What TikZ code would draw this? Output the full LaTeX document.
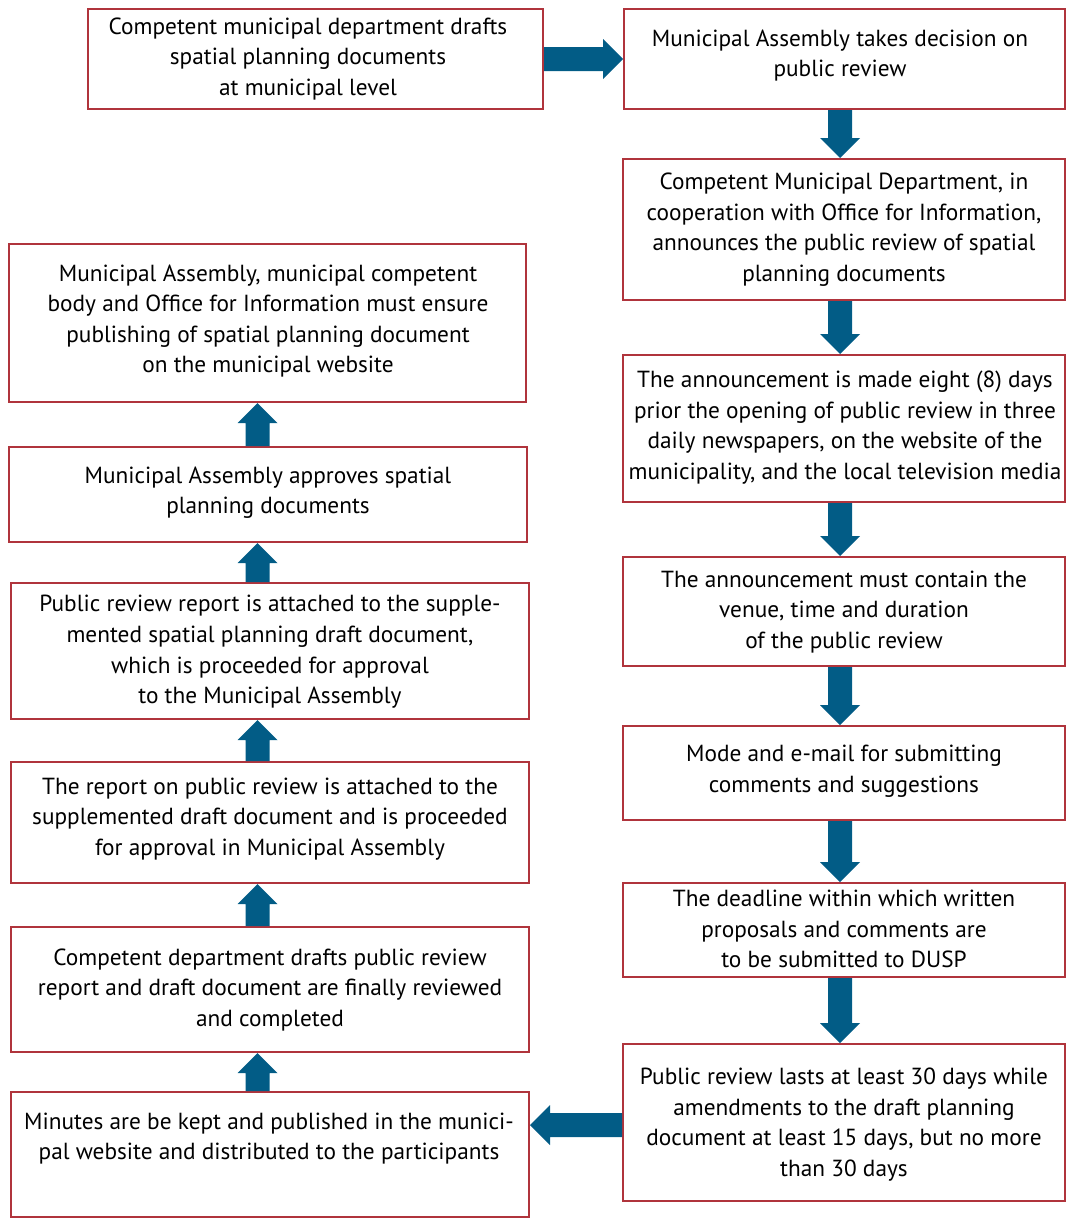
\documentclass[tikz,border=0pt]{standalone}
\usepackage{fontspec}
\setmainfont{PT Sans}
\usetikzlibrary{calc}
\definecolor{boxred}{RGB}{176,52,60}
\definecolor{arrowc}{RGB}{2,92,134}
\tikzset{
  box/.style={draw=boxred, line width=2.2pt, rectangle, inner sep=0pt},
  txt/.style={align=center, inner sep=0pt, font=\fontsize{23.3}{30.6}\selectfont},
}
\newcommand\boxat[5]{%
  \node[box, minimum width={(#4-#2-2.2)*1pt}, minimum height={(#5-#3-2.2)*1pt}] (#1) at ({(#2+#4)/2},{(#3+#5)/2}) {};}
\newcommand\fatarrow[2]{%
  \path (#1) coordinate (fas);
  \path (#2) coordinate (fae);
  \path ($(fae)!20pt!(fas)$) coordinate (fah);
  \fill[arrowc] ($(fas)!12pt!90:(fae)$) -- ($(fah)!12pt!90:(fae)$) -- ($(fah)!20pt!90:(fae)$) -- (fae)
    -- ($(fah)!20pt!-90:(fae)$) -- ($(fah)!12pt!-90:(fae)$) -- ($(fas)!12pt!-90:(fae)$) -- cycle;}
\begin{document}
\begin{tikzpicture}[x=1pt,y=-1pt]
\useasboundingbox (0,0) rectangle (1067,1221);
% boxes
\boxat{L0}{87}{8}{544}{110}
\boxat{R0}{623}{8}{1066}{110}
\boxat{R1}{622}{158}{1066}{301}
\boxat{R2}{622}{354}{1066}{503}
\boxat{R3}{622}{556}{1066}{667}
\boxat{R4}{622}{725}{1066}{821}
\boxat{R5}{622}{882}{1066}{978}
\boxat{R6}{622}{1043}{1066}{1202}
\boxat{L1}{8}{243}{527}{403}
\boxat{L2}{8}{446}{528}{543}
\boxat{L3}{10}{582}{530}{720}
\boxat{L4}{10}{761}{530}{884}
\boxat{L5}{10}{926}{530}{1053}
\boxat{L6}{10}{1091}{530}{1218}
% texts
\node[txt] (L0t) at (308,59) {Competent municipal department drafts\\spatial planning documents\\at municipal level};
\node[txt] (R0t) at (840,55.5) {Municipal Assembly takes decision on\\public review};
\node[txt] (R1t) at (844,229.5) {Competent Municipal Department, in\\cooperation with Office for Information,\\announces the public review of spatial\\planning documents};
\node[txt] (R2t) at (845,427.5) {The announcement is made eight (8) days\\prior the opening of public review in three\\daily newspapers, on the website of the\\municipality, and the local television media};
\node[txt] (R3t) at (844,612) {The announcement must contain the\\venue, time and duration\\of the public review};
\node[txt] (R4t) at (844,771.5) {Mode and e-mail for submitting\\comments and suggestions};
\node[txt] (R5t) at (844,929) {The deadline within which written\\proposals and comments are\\to be submitted to DUSP};
\node[txt] (R6t) at (844,1124.5) {Public review lasts at least 30 days while\\amendments to the draft planning\\document at least 15 days, but no more\\than 30 days};
\node[txt] (L1t) at (268,321) {Municipal Assembly, municipal competent\\body and Office for Information must ensure\\publishing of spatial planning document\\on the municipal website};
\node[txt] (L2t) at (268,492.5) {Municipal Assembly approves spatial\\planning documents};
\node[txt] (L3t) at (270,652) {Public review report is attached to the supple-\\mented spatial planning draft document,\\which is proceeded for approval\\to the Municipal Assembly};
\node[txt] (L4t) at (270,819) {The report on public review is attached to the\\supplemented draft document and is proceeded\\for approval in Municipal Assembly};
\node[txt] (L5t) at (270,990) {Competent department drafts public review\\report and draft document are finally reviewed\\and completed};
\node[txt] (L6t) at (269,1138.5) {Minutes are be kept and published in the munici-\\pal website and distributed to the participants};
% arrow axes
\coordinate (axL) at (257.5,0);
\coordinate (axR) at (840,0);
% arrows
\fatarrow{L0.east}{R0.west |- fas}
\fatarrow{R0.south -| axR}{R1.north -| axR}
\fatarrow{R1.south -| axR}{R2.north -| axR}
\fatarrow{R2.south -| axR}{R3.north -| axR}
\fatarrow{R3.south -| axR}{R4.north -| axR}
\fatarrow{R4.south -| axR}{R5.north -| axR}
\fatarrow{R5.south -| axR}{R6.north -| axR}
\fatarrow{$(R6.west)+(0,2.5)$}{L6.east |- fas}
\fatarrow{L6.north -| axL}{L5.south -| axL}
\fatarrow{L5.north -| axL}{L4.south -| axL}
\fatarrow{L4.north -| axL}{L3.south -| axL}
\fatarrow{L3.north -| axL}{L2.south -| axL}
\fatarrow{L2.north -| axL}{L1.south -| axL}
\end{tikzpicture}
\end{document}
